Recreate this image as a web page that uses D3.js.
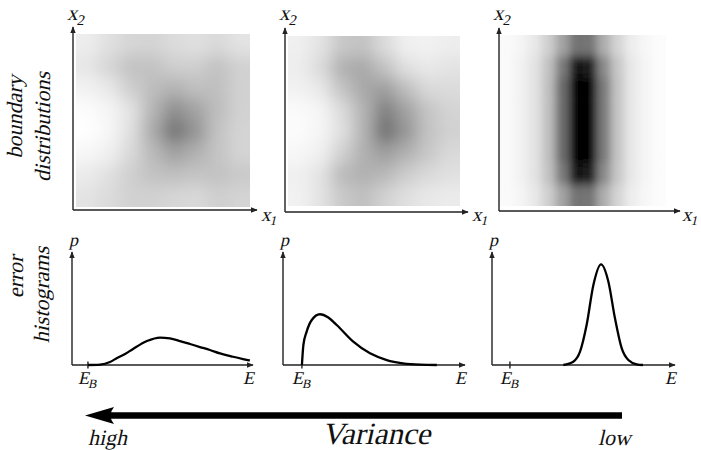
<!DOCTYPE html>
<meta charset="utf-8">
<style>
  body { margin: 0; background: #fff; }
  svg text {
    font-family: "Liberation Serif", "DejaVu Serif", serif;
    fill: #111;
  }
  .ax { stroke: #222; stroke-width: 1.4px; }
  .curve { fill: none; stroke: #000; stroke-width: 2.3px; stroke-linejoin: round; }
</style>
<svg width="701" height="450"></svg>
<script src="https://d3js.org/d3.v7.min.js"></script>
<script>
  // boundary densities, darkness 0 (white) .. 100 (black), read row by row
  var map1 = [
    [ 7, 12, 16, 17, 14, 12, 15, 11],
    [10, 16, 24, 24, 19, 19, 24, 18],
    [ 5,  9, 19, 26, 30, 25, 25, 18],
    [ 1,  4, 11, 29, 44, 36, 26, 18],
    [ 0,  3, 12, 33, 55, 42, 24, 17],
    [ 3,  6, 15, 27, 37, 31, 23, 17],
    [ 8, 12, 19, 24, 25, 23, 24, 21],
    [11, 14, 18, 18, 16, 15, 19, 17]
  ];
  var map2 = [
    [ 6, 11, 22, 24, 14,  6,  5,  7],
    [ 7, 14, 31, 34, 24, 12,  9, 11],
    [ 5,  9, 23, 34, 38, 26, 15, 14],
    [ 2,  4, 14, 30, 50, 37, 23, 17],
    [ 1,  4, 12, 30, 56, 41, 24, 18],
    [ 3,  6, 18, 31, 38, 31, 22, 15],
    [ 6, 11, 27, 31, 28, 20, 15, 12],
    [ 5, 11, 21, 25, 18, 12,  9,  8]
  ];
  var map3 = [
    [2, 4,  9, 19, 36, 55, 54, 32, 17, 7, 3, 1],
    [2, 5, 11, 24, 52, 92, 90, 46, 22, 9, 4, 1],
    [2, 5, 11, 25, 58, 100, 100, 52, 23, 9, 4, 1],
    [2, 5, 11, 25, 58, 100, 100, 52, 23, 9, 4, 1],
    [2, 5, 11, 25, 58, 100, 100, 52, 23, 9, 4, 1],
    [2, 5, 11, 25, 58, 100, 100, 52, 23, 9, 4, 1],
    [2, 5, 11, 24, 52, 92, 90, 46, 22, 9, 4, 1],
    [2, 4,  9, 19, 36, 55, 54, 32, 17, 7, 3, 1]
  ];
  // thin light ridge inside the dark core of map3: [column, fromRow, toRow]
  var ridge3 = [6, 2, 6.3];

  // error histograms, [E, p] on a 0..100 axis
  var hist1 = [[8.8, 0], [15.5, 0.4], [21, 2.7], [24.9, 6.2], [29.3, 9.7], [33.7, 14.2],
    [41.4, 21.2], [48.6, 24.3], [54.1, 23.5], [59.7, 21.2], [65.2, 18.6], [70.7, 15.9],
    [76.2, 13.3], [81.8, 10.2], [89, 7.3], [94.5, 5.3], [98.3, 4]];
  var hist2 = [[10.4, 0], [11.2, 17.7], [13, 29.5], [15.8, 39.8], [20.3, 44.9], [24.9, 42],
    [29.5, 35.4], [38.6, 20.6], [47.8, 10.3], [57, 4.4], [65.9, 1.5], [75.3, 0.3], [84.5, 0]];
  var hist3 = [[39, 0], [44.4, 2.9], [48.1, 11.8], [51.7, 35.4], [55.4, 70.8], [59.6, 89.1],
    [63.6, 73.7], [67.2, 41.3], [70.9, 14.7], [74.5, 4.4], [79.1, 0.6], [82.5, 0]];
  var bayesE = [8.8, 10.4, 9.8];

  var rowLabels = [["boundary", "distributions"], ["error", "histograms"]];
  var arrowLabels = ["high", "Variance", "low"];

  var svg = d3.select("svg");
  var defs = svg.append("defs");
  var shade = d3.scaleLinear().domain([0, 100]).range(["#ffffff", "#000000"]);

  defs.append("marker")
    .attr("id", "head")
    .attr("viewBox", "0 0 10 10")
    .attr("refX", 9).attr("refY", 5)
    .attr("markerWidth", 7).attr("markerHeight", 7)
    .attr("markerUnits", "userSpaceOnUse")
    .attr("orient", "auto")
    .append("path").attr("d", "M0,1L10,5L0,9Z").attr("fill", "#222");

  defs.append("filter").attr("id", "soft")
    .append("feGaussianBlur").attr("stdDeviation", 0.6);

  var tops = [
    {map: map1, blur: 8, ox: 73, oy: 210, top: 27, end: 257, box: [76, 250, 34, 207]},
    {map: map2, blur: 8, ox: 285, oy: 212, top: 28, end: 468, box: [288, 460, 36, 206]},
    {map: map3, blur: "4 5", ox: 499, oy: 211, top: 28, end: 680, box: [500, 666, 35, 206]}
  ];
  var bottoms = [
    {data: hist1, eb: bayesE[0], ox: 72, oy: 365, top: 252, end: 253},
    {data: hist2, eb: bayesE[1], ox: 283, oy: 365, top: 252, end: 465},
    {data: hist3, eb: bayesE[2], ox: 492, oy: 365, top: 252, end: 675}
  ];

  // slanted serif text: a skewed group stands in for an italic face
  function label(g, x, y, s, size) {
    return g.append("g").attr("transform", "translate(" + x + "," + y + ") skewX(-13)")
      .append("text").style("font-size", size + "px").text(s);
  }

  function sub(g, x, y, main, low, size) {
    var t = label(g, x, y, main, size);
    t.append("tspan").attr("dy", size * 0.22).style("font-size", (size * 0.7) + "px").text(low);
  }

  function axes(g, p) {
    g.append("line").attr("class", "ax")
      .attr("x1", p.ox).attr("y1", p.oy).attr("x2", p.ox).attr("y2", p.top)
      .attr("marker-end", "url(#head)");
    g.append("line").attr("class", "ax")
      .attr("x1", p.ox).attr("y1", p.oy).attr("x2", p.end).attr("y2", p.oy)
      .attr("marker-end", "url(#head)");
  }

  tops.forEach(function(p, i) {
    var g = svg.append("g");
    var rows = p.map.length, cols = p.map[0].length;
    var xb = d3.scaleBand().domain(d3.range(cols)).range([p.box[0], p.box[1]]);
    var yb = d3.scaleBand().domain(d3.range(rows)).range([p.box[2], p.box[3]]);
    var pad = 26;

    defs.append("clipPath").attr("id", "clip" + i).append("rect")
      .attr("x", p.box[0]).attr("y", p.box[2])
      .attr("width", p.box[1] - p.box[0]).attr("height", p.box[3] - p.box[2]);
    defs.append("filter").attr("id", "blur" + i)
      .attr("x", -0.2).attr("y", -0.2).attr("width", 1.4).attr("height", 1.4)
      .append("feGaussianBlur").attr("stdDeviation", p.blur);

    var cells = [];
    p.map.forEach(function(row, r) {
      row.forEach(function(v, c) { cells.push({r: r, c: c, v: v}); });
    });

    g.append("g").attr("clip-path", "url(#clip" + i + ")")
      .append("g").attr("filter", "url(#blur" + i + ")")
      .selectAll("rect").data(cells).join("rect")
      .attr("x", function(d) { return xb(d.c) - (d.c === 0 ? pad : 0); })
      .attr("y", function(d) { return yb(d.r) - (d.r === 0 ? pad : 0); })
      .attr("width", function(d) {
        return xb.bandwidth() + 0.6 + (d.c === 0 ? pad : 0) + (d.c === cols - 1 ? pad : 0);
      })
      .attr("height", function(d) {
        return yb.bandwidth() + 0.6 + (d.r === 0 ? pad : 0) + (d.r === rows - 1 ? pad : 0);
      })
      .attr("fill", function(d) { return shade(d.v); });

    if (p.map === map3) {
      var xl = d3.scaleLinear().domain([0, cols]).range([p.box[0], p.box[1]]);
      var yl = d3.scaleLinear().domain([0, rows]).range([p.box[2], p.box[3]]);
      g.append("line")
        .attr("x1", xl(ridge3[0])).attr("x2", xl(ridge3[0]))
        .attr("y1", yl(ridge3[1])).attr("y2", yl(ridge3[2]))
        .attr("stroke", "#5e5e5e").attr("stroke-width", 2.2)
        .attr("stroke-linecap", "round")
        .attr("filter", "url(#soft)");
    }

    axes(g, p);
    sub(g, p.ox - 6, 20, "x", "2", 21);
    sub(g, Math.min(p.end + 4, 682), 221, "x", "1", 19);
  });

  bottoms.forEach(function(p) {
    var g = svg.append("g");
    var x = d3.scaleLinear().domain([0, 100]).range([p.ox, p.end]);
    var y = d3.scaleLinear().domain([0, 100]).range([p.oy, p.top]);
    axes(g, p);
    g.append("line").attr("class", "ax")
      .attr("x1", x(p.eb)).attr("x2", x(p.eb))
      .attr("y1", p.oy - 3.5).attr("y2", p.oy + 3.5);
    g.append("path").attr("class", "curve")
      .attr("d", d3.line()
        .x(function(d) { return x(d[0]); })
        .y(function(d) { return y(d[1]); })
        .curve(d3.curveMonotoneX)(p.data));
    sub(g, x(p.eb) - 10, 384, "E", "B", 18);
    label(g, p.end - 10, 384, "E", 18);
    label(g, p.ox - 3, 246, "p", 18);
  });

  // row titles, read bottom to top
  var rowPos = [[[22, 117], [50, 127]], [[23, 277], [49, 295]]];
  rowLabels.forEach(function(lines, i) {
    lines.forEach(function(s, j) {
      svg.append("g")
        .attr("transform", "translate(" + rowPos[i][j][0] + "," + rowPos[i][j][1] + ") rotate(-90) skewX(-13)")
        .append("text")
        .attr("text-anchor", "middle")
        .style("font-size", "22px")
        .text(s);
    });
  });

  // variance arrow
  svg.append("line")
    .attr("x1", 108).attr("x2", 622).attr("y1", 415.5).attr("y2", 415.5)
    .attr("stroke", "#000").attr("stroke-width", 6.5);
  svg.append("path")
    .attr("d", "M85,415.5L114,407Q107,415.5 114,424Z")
    .attr("fill", "#000");

  label(svg, 88, 445, arrowLabels[0], 22);
  label(svg, 376, 444, arrowLabels[1], 31).attr("text-anchor", "middle");
  label(svg, 598, 445, arrowLabels[2], 22);
</script>
